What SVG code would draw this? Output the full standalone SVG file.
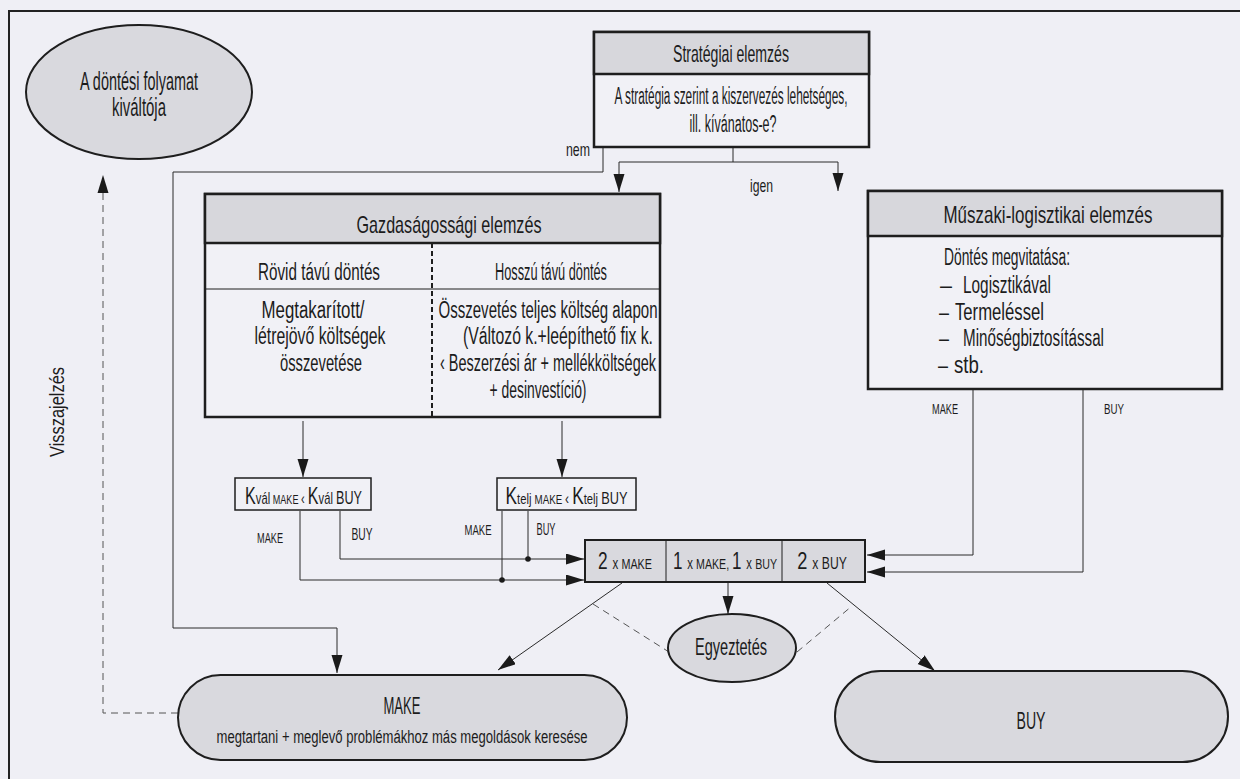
<svg xmlns="http://www.w3.org/2000/svg" width="1240" height="779" viewBox="0 0 1240 779">
<defs>
<style>
.t{font-family:"Liberation Sans Narrow","Liberation Sans",Arial,sans-serif;fill:#1c1c1c;}
.hd{font-size:24px;}
.bd{font-size:23px;}
.sm{font-size:15px;}
.box{fill:#f1f1f6;stroke:#1e1e1e;stroke-width:2.5;}
.hdr{fill:#d7d7dc;stroke:#1e1e1e;stroke-width:2.5;}
.gray{fill:#d9d9de;stroke:#1e1e1e;stroke-width:2;}
.thin{fill:none;stroke:#2a2a2a;stroke-width:1;}
.dash{fill:none;stroke:#555;stroke-width:1;stroke-dasharray:7 5;}
.sep{stroke:#1e1e1e;stroke-width:1;}
</style>
<marker id="ar" markerUnits="userSpaceOnUse" markerWidth="19" markerHeight="12" refX="18" refY="5.5" orient="auto">
<path d="M0,0 L18,5.5 L0,11 Z" fill="#1a1a1a"/>
</marker>
</defs>
<rect x="0" y="0" width="1240" height="779" fill="#efeff5"/>
<path d="M9,779 V11 H1240" fill="none" stroke="#222" stroke-width="2"/>

<g id="connectors">
<path class="thin" d="M733,148 V162 M619,162 H838"/>
<path class="thin" d="M619,162 V192" marker-end="url(#ar)"/>
<path class="thin" d="M838,162 V191" marker-end="url(#ar)"/>
<path class="thin" d="M603,148 V172 H173 V628 H337 V673" marker-end="url(#ar)"/>
<path class="thin" d="M303,421 V477" marker-end="url(#ar)"/>
<path class="thin" d="M562,421 V477" marker-end="url(#ar)"/>
<path class="thin" d="M300,511 V580 H584" marker-end="url(#ar)"/>
<path class="thin" d="M340,511 V559 H584" marker-end="url(#ar)"/>
<path class="thin" d="M502,511 V580 M528,511 V559"/>
<circle cx="502" cy="580" r="2.8" fill="#1a1a1a"/>
<circle cx="528" cy="559" r="2.8" fill="#1a1a1a"/>
<path class="thin" d="M973,390 V555 H867" marker-end="url(#ar)"/>
<path class="thin" d="M1083,390 V572 H867" marker-end="url(#ar)"/>
<path class="thin" d="M728,583 V614" marker-end="url(#ar)"/>
<path class="thin" d="M622,583 L498,670" marker-end="url(#ar)"/>
<path class="thin" d="M827,583 L935,671" marker-end="url(#ar)"/>
<path class="dash" d="M593,604 L669,652 M797,652 L852,606"/>
<path class="dash" d="M178,713 H103 V182"/>
<path d="M103,175 L97.5,193 L108.5,193 Z" fill="#1a1a1a"/>
<text class="t" x="566" y="156" font-size="19" textLength="24" lengthAdjust="spacingAndGlyphs">nem</text>
<text class="t" x="750" y="192" font-size="19" textLength="23" lengthAdjust="spacingAndGlyphs">igen</text>
<text class="t sm" x="945" y="414" text-anchor="middle" textLength="26" lengthAdjust="spacingAndGlyphs">MAKE</text>
<text class="t sm" x="1114" y="414" text-anchor="middle" textLength="20" lengthAdjust="spacingAndGlyphs">BUY</text>
<text class="t sm" x="270" y="543" text-anchor="middle" textLength="26" lengthAdjust="spacingAndGlyphs">MAKE</text>
<text class="t" x="362" y="540" font-size="17" text-anchor="middle" textLength="21" lengthAdjust="spacingAndGlyphs">BUY</text>
<text class="t sm" x="478" y="535" text-anchor="middle" textLength="27" lengthAdjust="spacingAndGlyphs">MAKE</text>
<text class="t" x="546" y="535" font-size="17" text-anchor="middle" textLength="19" lengthAdjust="spacingAndGlyphs">BUY</text>
<text class="t" x="64" y="412" font-size="20" text-anchor="middle" transform="rotate(-90 64 412)" textLength="90" lengthAdjust="spacingAndGlyphs">Visszajelzés</text>
</g>

<g id="trigger">
<ellipse cx="139" cy="92" rx="113" ry="67" class="gray"/>
<text class="t" x="139" y="90" font-size="25" text-anchor="middle" textLength="118" lengthAdjust="spacingAndGlyphs">A döntési folyamat</text>
<text class="t" x="139" y="116" font-size="25" text-anchor="middle" textLength="54" lengthAdjust="spacingAndGlyphs">kiváltója</text>
</g>

<g id="strategy">
<rect x="594" y="32" width="275" height="115" class="box"/>
<rect x="594" y="32" width="275" height="42" class="hdr"/>
<text class="t hd" x="731" y="62" text-anchor="middle" textLength="116" lengthAdjust="spacingAndGlyphs">Stratégiai elemzés</text>
<text class="t bd" x="731" y="104" text-anchor="middle" textLength="233" lengthAdjust="spacingAndGlyphs">A stratégia szerint a kiszervezés lehetséges,</text>
<text class="t bd" x="733" y="132" text-anchor="middle" textLength="87" lengthAdjust="spacingAndGlyphs">ill. kívánatos-e?</text>
</g>

<g id="economic">
<rect x="205" y="194" width="455" height="223" class="box"/>
<rect x="205" y="194" width="455" height="49" class="hdr"/>
<line x1="205" y1="289" x2="660" y2="289" class="sep"/>
<line x1="432" y1="243" x2="432" y2="417" stroke="#1e1e1e" stroke-width="2" stroke-dasharray="5 3"/>
<text class="t hd" x="449" y="233" text-anchor="middle" textLength="185" lengthAdjust="spacingAndGlyphs">Gazdaságossági elemzés</text>
<text class="t bd" x="319" y="280" text-anchor="middle" textLength="122" lengthAdjust="spacingAndGlyphs">Rövid távú döntés</text>
<text class="t bd" x="551" y="280" text-anchor="middle" textLength="112" lengthAdjust="spacingAndGlyphs">Hosszú távú döntés</text>
<text class="t bd" x="313" y="318" text-anchor="middle" textLength="103" lengthAdjust="spacingAndGlyphs">Megtakarított/</text>
<text class="t bd" x="320" y="344" text-anchor="middle" textLength="131" lengthAdjust="spacingAndGlyphs">létrejövő költségek</text>
<text class="t bd" x="321" y="371" text-anchor="middle" textLength="82" lengthAdjust="spacingAndGlyphs">összevetése</text>
<text class="t bd" x="548" y="318" text-anchor="middle" textLength="219" lengthAdjust="spacingAndGlyphs">Összevetés teljes költség alapon</text>
<text class="t bd" x="558" y="344" text-anchor="middle" textLength="190" lengthAdjust="spacingAndGlyphs">(Változó k.+leépíthető fix k.</text>
<text class="t bd" x="548" y="371" text-anchor="middle" textLength="216" lengthAdjust="spacingAndGlyphs">‹ Beszerzési ár + mellékköltségek</text>
<text class="t bd" x="538" y="398" text-anchor="middle" textLength="97" lengthAdjust="spacingAndGlyphs">+ desinvestíció)</text>
</g>

<g id="technical">
<rect x="868" y="191" width="354" height="198" class="box"/>
<rect x="868" y="191" width="354" height="45" class="hdr"/>
<text class="t hd" x="1048" y="223" text-anchor="middle" textLength="209" lengthAdjust="spacingAndGlyphs">Műszaki-logisztikai elemzés</text>
<text class="t bd" x="944" y="265" textLength="126" lengthAdjust="spacingAndGlyphs">Döntés megvitatása:</text>
<text class="t bd" x="940" y="293" textLength="12" lengthAdjust="spacingAndGlyphs">–</text>
<text class="t bd" x="963" y="293" textLength="88" lengthAdjust="spacingAndGlyphs">Logisztikával</text>
<text class="t bd" x="939" y="320" textLength="10" lengthAdjust="spacingAndGlyphs">–</text>
<text class="t bd" x="955" y="320" textLength="89" lengthAdjust="spacingAndGlyphs">Termeléssel</text>
<text class="t bd" x="939" y="346" textLength="10" lengthAdjust="spacingAndGlyphs">–</text>
<text class="t bd" x="963" y="346" textLength="141" lengthAdjust="spacingAndGlyphs">Minőségbiztosítással</text>
<text class="t bd" x="938" y="373" textLength="10" lengthAdjust="spacingAndGlyphs">–</text>
<text class="t bd" x="954" y="373" textLength="30" lengthAdjust="spacingAndGlyphs">stb.</text>
</g>

<g id="k-short">
<rect x="235" y="478" width="136" height="32" fill="#f1f1f6" stroke="#1e1e1e" stroke-width="1.5"/>
<g transform="translate(303.5,504) scale(0.70,1)">
<text class="t" x="0" y="0" text-anchor="middle"><tspan font-size="23">K</tspan><tspan font-size="16">vál</tspan><tspan font-size="13"> MAKE </tspan><tspan font-size="16">‹ </tspan><tspan font-size="23">K</tspan><tspan font-size="16">vál </tspan><tspan font-size="18">BUY</tspan></text>
</g>
</g>

<g id="k-long">
<rect x="497" y="478" width="139" height="32" fill="#f1f1f6" stroke="#1e1e1e" stroke-width="1.5"/>
<g transform="translate(566.5,504) scale(0.75,1)">
<text class="t" x="0" y="0" text-anchor="middle"><tspan font-size="23">K</tspan><tspan font-size="15">telj </tspan><tspan font-size="13">MAKE </tspan><tspan font-size="16">‹ </tspan><tspan font-size="23">K</tspan><tspan font-size="15">telj </tspan><tspan font-size="17">BUY</tspan></text>
</g>
</g>

<g id="outcomes">
<rect x="585" y="540" width="280" height="42" class="gray" stroke-width="1.5"/>
<line x1="666" y1="540" x2="666" y2="582" class="sep" stroke-width="1.5"/>
<line x1="782" y1="540" x2="782" y2="582" class="sep" stroke-width="1.5"/>
<g transform="translate(625,569) scale(0.72,1)">
<text class="t" x="0" y="0" text-anchor="middle"><tspan font-size="24">2 </tspan><tspan font-size="16">x </tspan><tspan font-size="15">MAKE</tspan></text>
</g>
<g transform="translate(725,569) scale(0.71,1)">
<text class="t" x="0" y="0" text-anchor="middle"><tspan font-size="24">1 </tspan><tspan font-size="16">x </tspan><tspan font-size="15">MAKE, </tspan><tspan font-size="24">1 </tspan><tspan font-size="16">x </tspan><tspan font-size="15">BUY</tspan></text>
</g>
<g transform="translate(822,569) scale(0.76,1)">
<text class="t" x="0" y="0" text-anchor="middle"><tspan font-size="24">2 </tspan><tspan font-size="16">x </tspan><tspan font-size="16">BUY</tspan></text>
</g>
</g>

<g id="egyeztetes">
<ellipse cx="732" cy="648" rx="64" ry="34" class="gray"/>
<text class="t" x="731" y="655" font-size="24" text-anchor="middle" textLength="72" lengthAdjust="spacingAndGlyphs">Egyeztetés</text>
</g>

<g id="make">
<rect x="178" y="675" width="449" height="85" rx="42.5" ry="42.5" class="gray"/>
<text class="t" x="402" y="714" font-size="23" text-anchor="middle" textLength="37" lengthAdjust="spacingAndGlyphs">MAKE</text>
<text class="t" x="402" y="743" font-size="18" text-anchor="middle" textLength="371" lengthAdjust="spacingAndGlyphs">megtartani + meglevő problémákhoz más megoldások keresése</text>
</g>

<g id="buy">
<rect x="835" y="671" width="393" height="91" rx="45.5" ry="45.5" class="gray"/>
<text class="t" x="1031" y="729" font-size="23" text-anchor="middle" textLength="29" lengthAdjust="spacingAndGlyphs">BUY</text>
</g>
</svg>
